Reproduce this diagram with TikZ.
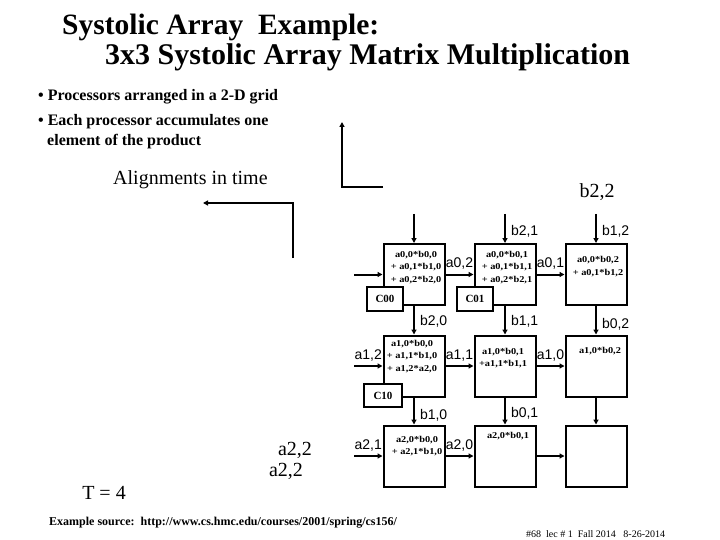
\documentclass[tikz,border=0pt]{standalone}
\usepackage{fontspec}
\setmainfont{Liberation Serif}
\newfontfamily\lblfont{Liberation Sans}
\usetikzlibrary{arrows.meta}
\newcommand\sumtxt[1]{\scalebox{1.15}[1]{\begin{tabular}{@{}c@{}}#1\end{tabular}}}
\begin{document}
\begin{tikzpicture}[x=1pt,y=-1pt,
  pe/.style={draw, line width=2pt, minimum width=61pt, minimum height=61pt, inner sep=0pt},
  cbox/.style={draw, line width=2pt, fill=white, minimum width=36pt, minimum height=24pt, inner sep=0pt, font=\bfseries\fontsize{11}{13}\selectfont},
  flow/.style={line width=2pt, -{Triangle[length=5pt,width=5pt]}},
  lbl/.style={font=\lblfont\fontsize{14}{16}\selectfont, inner sep=0pt},
  calc/.style={font=\bfseries\fontsize{9}{12.5}\selectfont, inner sep=0pt},
  big/.style={font=\fontsize{20}{22}\selectfont, inner sep=0pt},
  ttl/.style={inner sep=0pt, anchor=base west, font=\bfseries\fontsize{30}{32}\selectfont},
  bullet/.style={font=\bfseries\fontsize{16}{20}\selectfont, inner sep=0pt, anchor=west, align=left}
]
\useasboundingbox (0,0) rectangle (720,540);
% titles
\node[ttl, font=\bfseries\fontsize{29.5}{32}\selectfont] (t1) at (62,35) {Systolic Array\ \ Example:};
\node[ttl] (t2) at (105,65) {3x3 Systolic Array Matrix Multiplication};
\node[bullet] (b1) at (38,97) {\textbullet\ Processors arranged in a 2-D grid};
\node[bullet] (b2) at (38,122) {\textbullet\ Each processor accumulates one};
\node[bullet] (b3) at (47,142) {element of the product};
\node[big, anchor=west] (al) at (113,180) {Alignments in time};
% L arrows
\coordinate (u0) at (342,187); \coordinate (u1) at (383,187); \coordinate (u2) at (342,122);
\draw[flow] (u1) -- (u0) -- (u2);
\coordinate (l0) at (293,258); \coordinate (l1) at (293,203); \coordinate (l2) at (203,203);
\draw[flow] (l0) -- (l1) -- (l2);
% PEs
\foreach \r/\y in {0/274.5,1/366,2/456}{
  \foreach \c/\x in {0/414,1/505,2/596}{
    \node[pe] (p\r\c) at (\x,\y) {};
  }
}
% top inputs
\coordinate (top0) at (414,214); \coordinate (top1) at (505,214); \coordinate (top2) at (596,214);
\draw[flow] (top0) -- (p00);
\draw[flow] (top1) -- node[lbl, right=5pt, pos=0.6] (lb21) {b2,1} (p01);
\draw[flow] (top2) -- node[lbl, right=5pt, pos=0.6] (lb12) {b1,2} (p02);
\node[big] (lb22) at (597,192) {b2,2};
% vertical flows
\draw[flow] (p00) -- node[lbl, right=5pt, pos=0.55] (lb20) {b2,0} (p10);
\draw[flow] (p01) -- node[lbl, right=5pt, pos=0.55] (lb11) {b1,1} (p11);
\draw[flow] (p02) -- node[lbl, right=5pt, pos=0.65] (lb02) {b0,2} (p12);
\draw[flow] (p10) -- node[lbl, right=5pt, pos=0.65] (lb10) {b1,0} (p20);
\draw[flow] (p11) -- node[lbl, right=5pt, pos=0.6] (lb01) {b0,1} (p21);
\draw[flow] (p12) -- (p22);
% left inputs
\coordinate (in0) at (354,274.5); \coordinate (in1) at (354,366); \coordinate (in2) at (354,456);
\draw[flow] (in0) -- (p00);
\draw[flow] (in1) -- node[lbl, above=4pt] (la12) {a1,2} (p10);
\draw[flow] (in2) -- node[lbl, above=4pt] (la21) {a2,1} (p20);
% horizontal flows
\draw[flow] (p00) -- node[lbl, above=4pt] (la02) {a0,2} (p01);
\draw[flow] (p01) -- node[lbl, above=4pt] (la01) {a0,1} (p02);
\draw[flow] (p10) -- node[lbl, above=4pt] (la11) {a1,1} (p11);
\draw[flow] (p11) -- node[lbl, above=4pt] (la10) {a1,0} (p12);
\draw[flow] (p20) -- node[lbl, above=4pt] (la20) {a2,0} (p21);
\draw[flow] (p21) -- (p22);
% partial sums
\node[calc] (s00) at (416,267) {\sumtxt{a0,0*b0,0\\+ a0,1*b1,0\\+ a0,2*b2,0}};
\node[calc] (s01) at (507,267) {\sumtxt{a0,0*b0,1\\+ a0,1*b1,1\\+ a0,2*b2,1}};
\node[calc] (s02) at (598,266.5) {\sumtxt{a0,0*b0,2\\+ a0,1*b1,2}};
\node[calc] (s10) at (412,356) {\sumtxt{a1,0*b0,0\\+ a1,1*b1,0\\+ a1,2*a2,0}};
\node[calc] (s11) at (503,358) {\sumtxt{a1,0*b0,1\\+a1,1*b1,1}};
\node[calc] (s12) at (600,351) {\sumtxt{a1,0*b0,2}};
\node[calc] (s20) at (417,446) {\sumtxt{a2,0*b0,0\\+ a2,1*b1,0}};
\node[calc] (s21) at (508,436) {\sumtxt{a2,0*b0,1}};
% C boxes
\node[cbox] (c00) at (385,299) {C00};
\node[cbox] (c01) at (475,299) {C01};
\node[cbox, minimum width=38pt, minimum height=23pt] (c10) at (383,395.5) {C10};
% bottom texts
\node[big] (a22a) at (295,450) {a2,2};
\node[big] (a22b) at (286,471) {a2,2};
\node[big] (T4) at (104,493) {T = 4};
\node[inner sep=0pt, anchor=west, font=\bfseries\fontsize{12}{14}\selectfont] (src) at (49,523) {Example source:\ \ http://www.cs.hmc.edu/courses/2001/spring/cs156/};
\node[inner sep=0pt, anchor=west, font=\fontsize{10}{12}\selectfont] (foot) at (526,534) {\#68\ \ lec \# 1\ \ Fall 2014\ \ \ 8-26-2014};
\end{tikzpicture}
\end{document}
